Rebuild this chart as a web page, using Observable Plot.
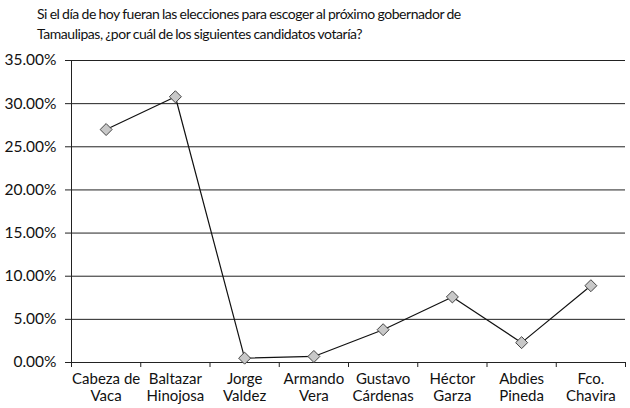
<!DOCTYPE html>
<html>
<head>
<meta charset="utf-8">
<script src="https://cdn.jsdelivr.net/npm/d3@7"></script>
<script src="https://cdn.jsdelivr.net/npm/@observablehq/plot@0.6"></script>
<style>
  html, body { margin: 0; padding: 0; background: #fff; }
  #wrap { position: relative; width: 630px; height: 408px; }
  #title { position: absolute; left: 37px; top: 4px; font-family: Lato, sans-serif; font-size: 14px; letter-spacing: -0.45px; word-spacing: -0.5px; line-height: 20px; color: #111; }
  svg { display: block; }
</style>
</head>
<body>
<div id="wrap">
  <div id="title">Si el día de hoy fueran las elecciones para escoger al próximo gobernador de<br>Tamaulipas, ¿por cuál de los siguientes candidatos votaría?</div>
</div>
<script>
const candidates = ["Cabeza de\nVaca", "Baltazar\nHinojosa", "Jorge\nValdez", "Armando\nVera", "Gustavo\nCárdenas", "Héctor\nGarza", "Abdies\nPineda", "Fco.\nChavira"];
const values = [27.0, 30.8, 0.5, 0.7, 3.8, 7.6, 2.3, 8.9];
const yTicks = [0, 5, 10, 15, 20, 25, 30, 35];

const data = candidates.map((name, i) => ({name, pos: i + 0.5, value: values[i]}));
const boundaries = d3.range(candidates.length + 1);

const chart = Plot.plot({
  width: 630,
  height: 408,
  marginLeft: 71,
  marginRight: 5,
  marginTop: 60,
  marginBottom: 46,
  style: {fontFamily: "Lato, sans-serif", fontSize: "15px", color: "#111", background: "#fff"},
  x: {type: "linear", domain: [0, candidates.length]},
  y: {domain: [0, 35]},
  marks: [
    Plot.ruleY(yTicks, {stroke: "#222", strokeWidth: 1}),
    Plot.ruleX([0], {y1: 0, y2: 35, stroke: "#222"}),
    Plot.axisY({ticks: yTicks, tickFormat: d => d.toFixed(2) + "%", tickSize: 6, tickPadding: 9, label: null, fontSize: 15.5, stroke: "#222"}),
    Plot.axisX({ticks: boundaries, tickFormat: () => "", tickSize: 5, label: null, stroke: "#222"}),
    Plot.axisX({ticks: data.map(d => d.pos), tickFormat: (d, i) => candidates[i], tickSize: 0, tickPadding: 9, label: null, fontSize: 15, lineHeight: 1.15}),
    Plot.line(data, {x: "pos", y: "value", stroke: "#111", strokeWidth: 1.2}),
    Plot.dot(data, {x: "pos", y: "value", symbol: "diamond2", r: 5.4, fill: "#c8c8c8", stroke: "#444", strokeWidth: 1})
  ]
});
document.getElementById("wrap").prepend(chart);
</script>
</body>
</html>
